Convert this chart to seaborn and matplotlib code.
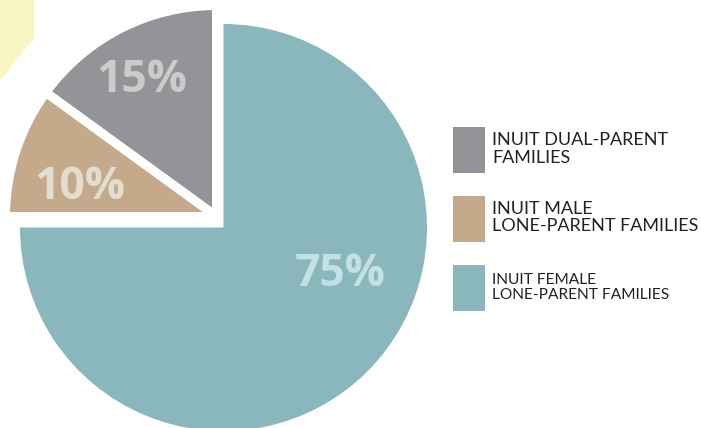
"""Inuit families by type - pie with the top-left quarter pulled out."""
import matplotlib.pyplot as plt
import seaborn as sns
from matplotlib.patches import Patch, Polygon

# data
categories = ["INUIT DUAL-PARENT\nFAMILIES",
              "INUIT MALE\nLONE-PARENT FAMILIES",
              "INUIT FEMALE\nLONE-PARENT FAMILIES"]
shares = [0.15, 0.10, 0.75]
colors = ["#939498", "#c4aa8a", "#89b7bc"]
label_colors = ["#c9cccb", "#e3ddd0", "#c4e0e4"]

sns.set_theme(style="white")
plt.rcParams["font.family"] = ["Lato", "DejaVu Sans"]

W, H = 701, 428
fig = plt.figure(figsize=(W / 100, H / 100), dpi=100)
ax = fig.add_axes([0, 0, 1, 1])

# scale: pixels per unit radius, teal centre in pixels
PX = 203.5
cx, cy = 223.5, 227.5
gap = 9  # white stroke between the pulled-out slices, px
pct_font = dict(family=["Open Sans", "DejaVu Sans"], fontsize=32, fontweight="bold")

# pulled-out quarter (dual-parent + male lone-parent)
grp_center = ((216.5 - cx) / PX, (cy - 216.5) / PX)
grp_wedges, _, grp_txt = ax.pie(
    shares[:2], normalize=False, startangle=90, counterclock=True,
    colors=colors[:2], center=grp_center, radius=211 / PX,
    autopct="%d%%", pctdistance=0.72,
    wedgeprops=dict(edgecolor="white", linewidth=gap * 0.72, joinstyle="round"),
    textprops=pct_font,
)

# female lone-parent share, drawn last so it sits on top
main_wedges, _, main_txt = ax.pie(
    shares[2:], normalize=False, startangle=90, counterclock=False,
    colors=colors[2:], center=(0, 0), radius=1,
    autopct="%d%%", wedgeprops=dict(linewidth=0),
    textprops=pct_font,
)

for t, c in zip(list(grp_txt) + list(main_txt), label_colors):
    t.set_color(c)
grp_txt[0].set_position(((142 - cx) / PX, (cy - 80) / PX))
grp_txt[1].set_position(((80 - cx) / PX, (cy - 187) / PX))
main_txt[0].set_position(((340 - cx) / PX, (cy - 274) / PX))

ax.set_xlim(-cx / PX, (W - cx) / PX)
ax.set_ylim(-(H - cy) / PX, cy / PX)
ax.set_aspect("auto")
ax.axis("off")

# yellow corner decoration
fig.patches.append(Polygon([(0, 1), (34 / W, 1), (34 / W, 1 - 38 / H), (0, 1 - 80 / H)],
                           closed=True, transform=fig.transFigure,
                           facecolor="#f9f6c4", edgecolor="none"))

# legend
fs = 13
fs_px = fs * 100 / 72
handles = [Patch(facecolor=c, edgecolor="none") for c in colors]
leg = ax.legend(handles, categories, loc="upper left",
                bbox_to_anchor=(453 / W, 1 - 127 / H), bbox_transform=fig.transFigure,
                frameon=False, fontsize=fs, borderpad=0, borderaxespad=0,
                handlelength=32 / fs_px, handleheight=46 / fs_px * 1.39,
                handletextpad=7 / fs_px, labelspacing=23 / fs_px)
for t in leg.get_texts():
    t.set_color("#222222")
    t.set_linespacing(1.15)
leg.get_texts()[2].set_fontsize(11.2)

plt.savefig("out.png", dpi=100)
plt.close()
